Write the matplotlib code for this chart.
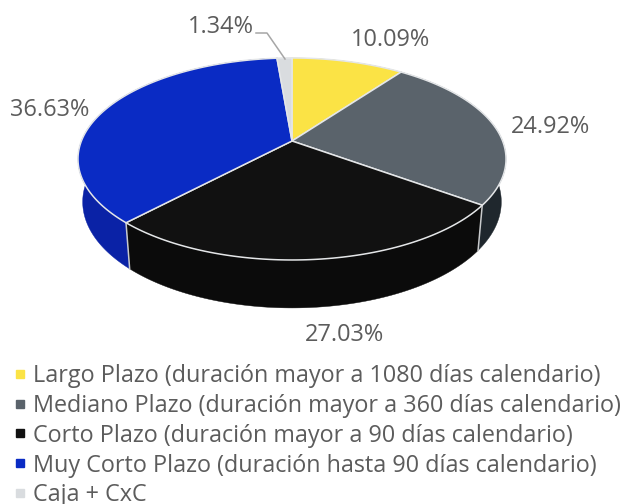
import numpy as np
import matplotlib
matplotlib.use("Agg")
import matplotlib.pyplot as plt
from matplotlib.lines import Line2D

categories = [
    "Largo Plazo (duración mayor a 1080 días calendario)",
    "Mediano Plazo (duración mayor a 360 días calendario)",
    "Corto Plazo (duración mayor a 90 días calendario)",
    "Muy Corto Plazo (duración hasta 90 días calendario)",
    "Caja + CxC",
]
values = [10.09, 24.92, 27.03, 36.63, 1.34]
top_colors = ["#FBE345", "#5A636B", "#111111", "#0A2BC4", "#D9DCDF"]
wall_colors = ["#B8A632", "#1F272D", "#0B0B0B", "#0A22A6", "#A9ACAE"]
label_pos = [(391, 40), (550, 127), (345, 335), (50, 110), (221, 27)]

FONT = "Open Sans"
TEXT = "#5C5C5C"
FS_LABEL = 16.9
FS_LEGEND = 16.8

# Perspective projection of the unit disc to pixels
CX, CY = 292, 141
A, B, K = 210.6, 97.8, 0.178


def top(theta):
    u, v = np.sin(theta), np.cos(theta)
    w = 1 + K * v
    return A * u / w, B * v / w


def rim_top(theta):
    x, y = top(theta)
    return CX + x, CY - y


def rim_bottom(theta):
    x, y = top(theta)
    return CX + 0.978 * x, CY - (1.05 * y - 42)


fig = plt.figure(figsize=(6.24, 5.04), dpi=100)
ax = fig.add_axes([0, 0, 1, 1])
ax.set_xlim(0, 624)
ax.set_ylim(504, 0)
ax.axis("off")

edges = np.cumsum([0] + values) / sum(values) * 2 * np.pi

# walls
for i in range(len(values)):
    t = np.linspace(edges[i], edges[i + 1], 120)
    xt, yt = rim_top(t)
    xb, yb = rim_bottom(t)
    ax.fill(np.r_[xt, xb[::-1]], np.r_[yt, yb[::-1]], color=wall_colors[i], lw=0.3, zorder=2)
for e in edges[1:-1]:
    xt, yt = rim_top(e)
    xb, yb = rim_bottom(e)
    ax.plot([xt, xb], [yt, yb], color="#C8CACC", lw=1.1, zorder=3)

# top surface
for i in range(len(values)):
    t = np.linspace(edges[i], edges[i + 1], 120)
    xt, yt = rim_top(t)
    ax.fill(np.r_[CX, xt], np.r_[CY, yt], facecolor=top_colors[i], edgecolor="#E4E6E8",
            lw=1.1, joinstyle="round", zorder=4)

# data labels
for v, (x, y) in zip(values, label_pos):
    ax.text(x, y, f"{v:.2f}%", ha="center", va="center", color=TEXT,
            fontsize=FS_LABEL, family=FONT, zorder=6)

# leader line of the smallest slice
ax.plot([256, 267, 285], [33, 33, 59], color="#A6A6A6", lw=1.1, zorder=5)

handles = [Line2D([], [], ls="none", marker="s", ms=6.2, mfc=c, mec=c) for c in top_colors]
leg = ax.legend(handles, categories, loc="upper left", bbox_to_anchor=(7 / 624, 1 - 364 / 504),
                frameon=False, prop={"family": FONT, "size": FS_LEGEND}, labelcolor=TEXT,
                borderaxespad=0, borderpad=0, handletextpad=0.0, handlelength=1.1,
                labelspacing=0.25)

fig.savefig("out.png", dpi=100)
